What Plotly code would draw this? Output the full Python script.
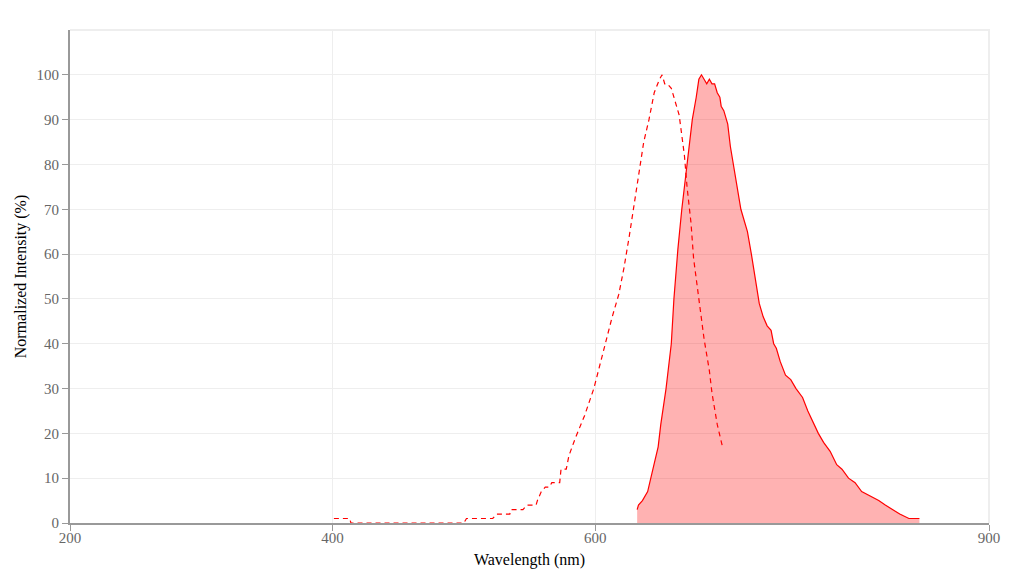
import plotly.graph_objects as go

# excitation spectrum (dashed)
ex_wl = [401, 413, 414, 500, 502, 522, 525, 535, 536, 545, 548, 555, 556, 559, 562,
         565, 567, 573, 574, 578, 580, 585, 592, 599, 606, 613, 618, 622, 626, 630,
         634, 637, 641, 645, 649, 651, 653, 655, 658, 660, 664, 668, 670, 673, 675,
         679, 683, 687, 689, 693, 697]
ex_val = [1, 1, 0, 0, 1, 1, 2, 2, 3, 3, 4, 4, 5, 7, 8,
          8, 9, 9, 12, 12, 15, 19, 24, 30, 38, 46, 51, 57, 64, 72,
          79, 85, 90, 96, 99, 100, 98, 98, 97, 95, 91, 82, 75, 67, 59,
          50, 41, 34, 29, 22, 17]

# emission spectrum (filled)
em_wl = [632, 633, 636, 640, 644, 648, 650, 654, 658, 660, 663, 666, 670, 674, 677,
         679, 681, 683, 685, 687, 689, 691, 693, 695, 696, 698, 701, 703, 706, 708,
         711, 713, 716, 719, 722, 725, 728, 731, 734, 736, 738, 741, 745, 749, 753,
         758, 762, 765, 770, 774, 779, 784, 788, 793, 798, 803, 810, 816, 821, 826,
         832, 839, 847]
em_val = [3, 4, 5, 7, 12, 17, 22, 30, 40, 50, 61, 70, 80, 90, 95,
          99, 100, 99, 98, 99, 98, 98, 96, 95, 93, 92, 89, 84, 79, 75,
          70, 68, 65, 60, 54, 49, 46, 44, 43, 40, 39, 36, 33, 32, 30,
          28, 25, 23, 20, 18, 16, 13, 12, 10, 9, 7, 6, 5, 4, 3,
          2, 1, 1]

x_ticks = [200, 400, 600, 900]
y_ticks = list(range(0, 101, 10))

serif = "Liberation Serif, Times New Roman, serif"

fig = go.Figure()
fig.add_trace(go.Scatter(x=ex_wl, y=ex_val, mode="lines",
                         line=dict(color="#ff0000", width=1.2, dash="5px,4px"),
                         name="Excitation"))
fig.add_trace(go.Scatter(x=em_wl, y=em_val, mode="lines", fill="tozeroy",
                         fillcolor="rgba(255,0,0,0.3)",
                         line=dict(color="#ff0000", width=1.2),
                         name="Emission"))

# light frame on top and right
fig.add_shape(type="path", xref="paper", yref="paper",
              path="M 0 1 L 1 1 L 1 0", line=dict(color="#eeeeee", width=2),
              layer="below")

# page body has an 8px margin, so the figure is a bit smaller than the window
fig.update_layout(
    width=1002, height=566,
    margin=dict(l=62, r=21, t=22, b=51, autoexpand=False),
    plot_bgcolor="white", paper_bgcolor="white",
    showlegend=False,
    font=dict(family=serif, size=15, color="#666666"),
)
fig.update_xaxes(
    range=[200, 900], tickvals=x_ticks,
    showgrid=True, gridcolor="#eeeeee", gridwidth=1,
    showline=True, linecolor="#999999", linewidth=2,
    ticks="outside", ticklen=6, tickcolor="#999999",
    ticklabelstandoff=-6,
    zeroline=False, automargin=False,
    title=dict(text="Wavelength (nm)", font=dict(family=serif, size=16, color="#000000"),
               standoff=9),
)
fig.update_yaxes(
    range=[0, 110], tickvals=y_ticks,
    showgrid=True, gridcolor="#eeeeee", gridwidth=1,
    showline=True, linecolor="#999999", linewidth=2,
    ticks="outside", ticklen=6, tickcolor="#999999",
    zeroline=False, automargin=False,
    title=dict(text="Normalized Intensity (%)", font=dict(family=serif, size=16, color="#000000"),
               standoff=6),
)

fig.write_html("out.html")
